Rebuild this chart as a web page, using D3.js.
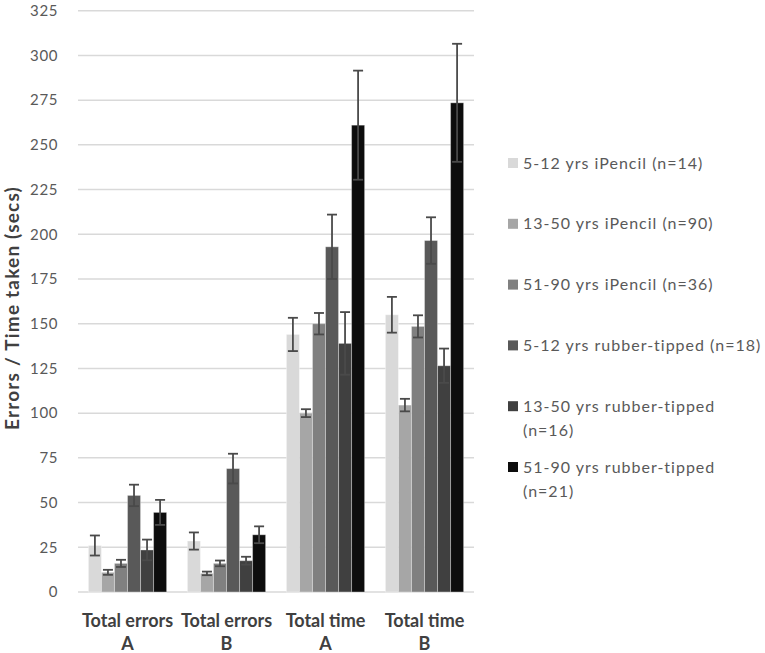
<!DOCTYPE html>
<html>
<head>
<meta charset="utf-8">
<script src="https://cdn.jsdelivr.net/npm/d3@7"></script>
<style>
  body { margin: 0; background: #fff; }
  svg { font-family: Lato, "Open Sans", sans-serif; }
</style>
</head>
<body>
<div id="chart"></div>
<script>
// categories and series
var categories = [["Total errors", "A"], ["Total errors", "B"], ["Total time", "A"], ["Total time", "B"]];
var seriesNames = [
  "5-12 yrs iPencil (n=14)",
  "13-50 yrs iPencil (n=90)",
  "51-90 yrs iPencil (n=36)",
  "5-12 yrs rubber-tipped (n=18)",
  "13-50 yrs rubber-tipped (n=16)",
  "51-90 yrs rubber-tipped (n=21)"
];
var seriesColors = ["#d9d9d9", "#a6a6a6", "#808080", "#595959", "#404040", "#0d0d0d"];

// mean values, one array per series (one entry per category)
var pencil512   = [26, 28.5, 144, 155];
var pencil1350  = [11, 10.4, 100, 104.5];
var pencil5190  = [16, 16, 150, 148.5];
var rubber512   = [54, 69, 193, 196.5];
var rubber1350  = [23.5, 17.5, 139, 126.5];
var rubber5190  = [44.5, 32, 261, 273.5];

// error (+/-) per series
var err512p  = [5.6, 4.8, 9.3, 10];
var err1350p = [1.4, 1, 2.2, 3.5];
var err5190p = [2, 1.6, 6, 6.2];
var err512r  = [6, 8.3, 18, 13];
var err1350r = [5.8, 2.2, 17.5, 9.6];
var err5190r = [7, 4.7, 30.5, 33];

var yTicks = d3.range(0, 326, 25);

var means = [pencil512, pencil1350, pencil5190, rubber512, rubber1350, rubber5190];
var errs = [err512p, err1350p, err5190p, err512r, err1350r, err5190r];

var width = 765, height = 653;
var svg = d3.select("#chart").append("svg")
    .attr("width", width)
    .attr("height", height);

var x0 = d3.scaleBand()
    .domain(d3.range(categories.length))
    .range([78, 474])
    .paddingInner(0.21)
    .paddingOuter(0.105);

var x1 = d3.scaleBand()
    .domain(d3.range(seriesNames.length))
    .range([0, x0.bandwidth()]);

var y = d3.scaleLinear()
    .domain([0, 325])
    .range([592, 10.7]);

// gridlines
svg.append("g")
  .selectAll("line")
  .data(yTicks)
  .enter().append("line")
    .attr("x1", 78).attr("x2", 474)
    .attr("y1", function(d) { return y(d); })
    .attr("y2", function(d) { return y(d); })
    .style("stroke", "#d9d9d9")
    .style("stroke-width", 1.5);

// y tick labels
svg.append("g")
  .selectAll("text")
  .data(yTicks)
  .enter().append("text")
    .attr("x", 58)
    .attr("y", function(d) { return y(d); })
    .attr("dy", "0.35em")
    .attr("text-anchor", "end")
    .style("font-size", "15px")
    .style("fill", "#595959")
    .style("letter-spacing", "0.6px")
    .text(function(d) { return d; });

// bars
var rows = [];
means.forEach(function(s, si) {
  s.forEach(function(v, ci) {
    rows.push({ s: si, c: ci, v: v, e: errs[si][ci] });
  });
});

svg.append("g")
  .selectAll("rect")
  .data(rows)
  .enter().append("rect")
    .attr("x", function(d) { return x0(d.c) + x1(d.s); })
    .attr("y", function(d) { return y(d.v); })
    .attr("width", x1.bandwidth())
    .attr("height", function(d) { return y(0) - y(d.v); })
    .style("fill", function(d) { return seriesColors[d.s]; })
    .style("stroke", "rgba(255,255,255,0.35)")
    .style("stroke-width", 1);

// error bars
var eb = svg.append("g")
  .selectAll("g")
  .data(rows)
  .enter().append("g")
    .attr("transform", function(d) { return "translate(" + (x0(d.c) + x1(d.s) + x1.bandwidth() / 2) + ",0)"; })
    .style("stroke", "#4a4a4a")
    .style("stroke-width", 1.8);

eb.append("line")
    .attr("y1", function(d) { return y(d.v + d.e); })
    .attr("y2", function(d) { return y(d.v - d.e); });
eb.append("line")
    .attr("x1", -5).attr("x2", 5)
    .attr("y1", function(d) { return y(d.v + d.e); })
    .attr("y2", function(d) { return y(d.v + d.e); });
eb.append("line")
    .attr("x1", -5).attr("x2", 5)
    .attr("y1", function(d) { return y(d.v - d.e); })
    .attr("y2", function(d) { return y(d.v - d.e); });

// x category labels
var xl = svg.append("g")
  .selectAll("text")
  .data(categories)
  .enter().append("text")
    .attr("x", function(d, i) { return x0(i) + x0.bandwidth() / 2; })
    .attr("y", 627)
    .attr("text-anchor", "middle")
    .style("font-size", "18px")
    .style("font-weight", "bold")
    .style("fill", "#404040");
xl.append("tspan")
    .attr("x", function(d, i) { return x0(i) + x0.bandwidth() / 2; })
    .text(function(d) { return d[0]; });
xl.append("tspan")
    .attr("x", function(d, i) { return x0(i) + x0.bandwidth() / 2; })
    .attr("dy", 23)
    .text(function(d) { return d[1]; });

// y axis title
svg.append("text")
    .attr("transform", "translate(12.5,308) rotate(-90)")
    .attr("text-anchor", "middle")
    .attr("dy", "0.35em")
    .style("font-size", "19px")
    .style("font-weight", "bold")
    .style("letter-spacing", "1.2px")
    .style("fill", "#404040")
    .text("Errors / Time taken (secs)");

// legend
var legend = svg.append("g")
  .selectAll("g")
  .data(seriesNames)
  .enter().append("g")
    .attr("transform", function(d, i) { return "translate(508," + (163 + i * 60.8) + ")"; });

legend.append("rect")
    .attr("x", 0).attr("y", -5)
    .attr("width", 10).attr("height", 10)
    .style("fill", function(d, i) { return seriesColors[i]; });

legend.append("text")
    .attr("x", 15)
    .attr("dy", "0.35em")
    .style("font-size", "16px")
    .style("letter-spacing", "1px")
    .style("fill", "#595959")
    .each(function(d) { wrap(d3.select(this), d, 244); });

// Wraps a label onto extra lines when it is wider than maxWidth.
function wrap(text, label, maxWidth) {
  var words = label.split(" "), line = [];
  var tspan = text.append("tspan").attr("x", 15);
  words.forEach(function(w) {
    line.push(w);
    tspan.text(line.join(" "));
    if (tspan.node().getComputedTextLength() > maxWidth && line.length > 1) {
      line.pop();
      tspan.text(line.join(" "));
      line = [w];
      tspan = text.append("tspan").attr("x", 15).attr("dy", 24).text(w);
    }
  });
}
</script>
</body>
</html>
